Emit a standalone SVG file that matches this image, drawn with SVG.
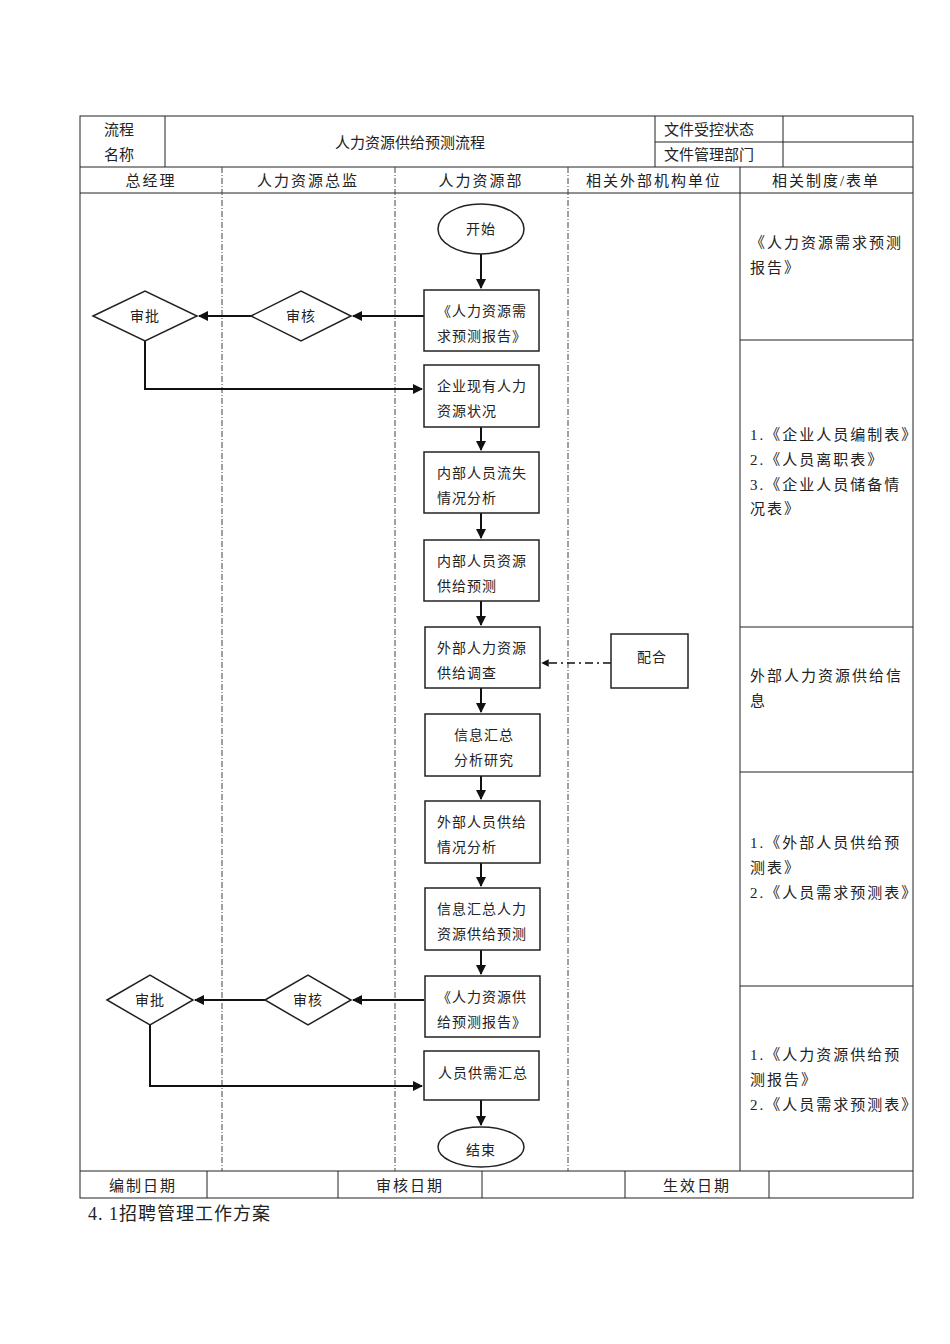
<svg xmlns="http://www.w3.org/2000/svg" width="950" height="1344" viewBox="0 0 950 1344">
<style>
text{font-family:"Liberation Serif","Noto Sans CJK SC",serif;font-size:15px;fill:#222}
.t{font-size:14px;letter-spacing:1px}
.r{letter-spacing:2px}
.b{fill:#fff;stroke:#222;stroke-width:1.5}
.g{stroke:#222;stroke-width:1;fill:none}
.d{stroke:#444;stroke-width:1;stroke-dasharray:6,2,1,2}
.c{stroke:#111;stroke-width:2;fill:none}
</style>
<defs><marker id="a" viewBox="0 0 10 10" refX="9" refY="5" markerWidth="5" markerHeight="5" orient="auto"><path d="M0,0L10,5L0,10z" fill="#111"/></marker></defs>
<rect width="950" height="1344" fill="#fff"/>
<g id="table">
<rect class="g" x="80" y="116" width="833" height="1082"/>
<line class="g" x1="165" y1="116" x2="165" y2="167"/><line class="g" x1="655" y1="116" x2="655" y2="167"/><line class="g" x1="783" y1="116" x2="783" y2="167"/>
<line class="g" x1="655" y1="142" x2="913" y2="142"/>
<line class="g" x1="80" y1="167" x2="913" y2="167"/><line class="g" x1="80" y1="193" x2="913" y2="193"/>
<line class="g" x1="80" y1="1171" x2="913" y2="1171"/>
<line class="d" x1="222" y1="167" x2="222" y2="1171"/><line class="d" x1="395" y1="167" x2="395" y2="1171"/><line class="d" x1="568" y1="167" x2="568" y2="1171"/>
<line class="g" x1="740" y1="167" x2="740" y2="1171"/>
<line class="g" x1="740" y1="340" x2="913" y2="340"/><line class="g" x1="740" y1="627" x2="913" y2="627"/><line class="g" x1="740" y1="772" x2="913" y2="772"/><line class="g" x1="740" y1="986" x2="913" y2="986"/>
<line class="g" x1="207" y1="1171" x2="207" y2="1198"/><line class="g" x1="338" y1="1171" x2="338" y2="1198"/><line class="g" x1="482" y1="1171" x2="482" y2="1198"/><line class="g" x1="625" y1="1171" x2="625" y2="1198"/><line class="g" x1="769" y1="1171" x2="769" y2="1198"/>
<text x="104" y="135">流程</text><text x="104" y="160">名称</text>
<text x="410" y="148" text-anchor="middle">人力资源供给预测流程</text>
<text x="664" y="135">文件受控状态</text><text x="664" y="160">文件管理部门</text>
<text x="151" y="186" text-anchor="middle" class="r">总经理</text><text x="308" y="186" text-anchor="middle" class="r">人力资源总监</text><text x="481" y="186" text-anchor="middle" class="r">人力资源部</text><text x="654" y="186" text-anchor="middle" class="r">相关外部机构单位</text><text x="826" y="186" text-anchor="middle" class="r">相关制度/表单</text>
<g class="r">
<text class="r" x="750" y="248">《人力资源需求预测</text><text class="r" x="750" y="273">报告》</text>
<text class="r" x="750" y="440">1.《企业人员编制表》</text><text class="r" x="750" y="465">2.《人员离职表》</text><text class="r" x="750" y="490">3.《企业人员储备情</text><text class="r" x="750" y="514">况表》</text>
<text class="r" x="750" y="681">外部人力资源供给信</text><text class="r" x="750" y="706">息</text>
<text class="r" x="750" y="848">1.《外部人员供给预</text><text class="r" x="750" y="873">测表》</text><text class="r" x="750" y="898">2.《人员需求预测表》</text>
<text class="r" x="750" y="1060">1.《人力资源供给预</text><text class="r" x="750" y="1085">测报告》</text><text class="r" x="750" y="1110">2.《人员需求预测表》</text>
</g>
<text x="143" y="1191" text-anchor="middle" class="r">编制日期</text><text x="410" y="1191" text-anchor="middle" class="r">审核日期</text><text x="697" y="1191" text-anchor="middle" class="r">生效日期</text>
</g>
<text x="88" y="1220" style="font-size:18px;letter-spacing:1px">4. 1招聘管理工作方案</text>
<g id="connectors">
<line class="c" x1="481" y1="254" x2="481" y2="288" marker-end="url(#a)"/>
<line class="c" x1="424" y1="316" x2="353" y2="316" marker-end="url(#a)"/>
<line class="c" x1="251" y1="316" x2="199" y2="316" marker-end="url(#a)"/>
<path class="c" d="M145,341V389H422" marker-end="url(#a)"/>
<line class="c" x1="481" y1="427" x2="481" y2="450" marker-end="url(#a)"/>
<line class="c" x1="481" y1="513" x2="481" y2="538" marker-end="url(#a)"/>
<line class="c" x1="481" y1="601" x2="481" y2="625" marker-end="url(#a)"/>
<line x1="611" y1="663" x2="542" y2="663" stroke="#111" stroke-width="1.5" stroke-dasharray="8,4,2,4" marker-end="url(#a)"/>
<line class="c" x1="481" y1="688" x2="481" y2="712" marker-end="url(#a)"/>
<line class="c" x1="481" y1="776" x2="481" y2="799" marker-end="url(#a)"/>
<line class="c" x1="481" y1="863" x2="481" y2="886" marker-end="url(#a)"/>
<line class="c" x1="481" y1="950" x2="481" y2="974" marker-end="url(#a)"/>
<line class="c" x1="424" y1="1000" x2="353" y2="1000" marker-end="url(#a)"/>
<line class="c" x1="265" y1="1000" x2="195" y2="1000" marker-end="url(#a)"/>
<path class="c" d="M150,1025V1086H422" marker-end="url(#a)"/>
<line class="c" x1="481" y1="1100" x2="481" y2="1125" marker-end="url(#a)"/>
</g>
<g id="start"><ellipse class="b" cx="481" cy="229" rx="43" ry="25"/><text class="t" x="481" y="234" text-anchor="middle">开始</text></g>
<g id="n1"><rect class="b" x="424" y="290" width="115" height="61"/><text class="t" x="437" y="316">《人力资源需</text><text class="t" x="437" y="341">求预测报告》</text></g>
<g id="sp1"><polygon class="b" points="93,316 145,291 197,316 145,341"/><text class="t" x="145" y="321" text-anchor="middle">审批</text></g>
<g id="sh1"><polygon class="b" points="251,316 301,291 351,316 301,341"/><text class="t" x="301" y="321" text-anchor="middle">审核</text></g>
<g id="n2"><rect class="b" x="424" y="365" width="115" height="62"/><text class="t" x="437" y="391">企业现有人力</text><text class="t" x="437" y="416">资源状况</text></g>
<g id="n3"><rect class="b" x="424" y="452" width="115" height="61"/><text class="t" x="437" y="478">内部人员流失</text><text class="t" x="437" y="503">情况分析</text></g>
<g id="n4"><rect class="b" x="424" y="540" width="115" height="61"/><text class="t" x="437" y="566">内部人员资源</text><text class="t" x="437" y="591">供给预测</text></g>
<g id="n5"><rect class="b" x="425" y="627" width="115" height="61"/><text class="t" x="437" y="653">外部人力资源</text><text class="t" x="437" y="678">供给调查</text></g>
<g id="pei"><rect class="b" x="611" y="634" width="77" height="54"/><text class="t" x="652" y="662" text-anchor="middle">配合</text></g>
<g id="n6"><rect class="b" x="425" y="714" width="115" height="62"/><text class="t" x="484" y="740" text-anchor="middle">信息汇总</text><text class="t" x="484" y="765" text-anchor="middle">分析研究</text></g>
<g id="n7"><rect class="b" x="425" y="801" width="115" height="62"/><text class="t" x="437" y="827">外部人员供给</text><text class="t" x="437" y="852">情况分析</text></g>
<g id="n8"><rect class="b" x="425" y="888" width="115" height="62"/><text class="t" x="437" y="914">信息汇总人力</text><text class="t" x="437" y="939">资源供给预测</text></g>
<g id="n9"><rect class="b" x="425" y="976" width="115" height="61"/><text class="t" x="437" y="1002">《人力资源供</text><text class="t" x="437" y="1027">给预测报告》</text></g>
<g id="sp2"><polygon class="b" points="107,1000 150,975 193,1000 150,1025"/><text class="t" x="150" y="1005" text-anchor="middle">审批</text></g>
<g id="sh2"><polygon class="b" points="265,1000 308,975 351,1000 308,1025"/><text class="t" x="308" y="1005" text-anchor="middle">审核</text></g>
<g id="n10"><rect class="b" x="424" y="1051" width="115" height="49"/><text class="t" x="483" y="1078" text-anchor="middle">人员供需汇总</text></g>
<g id="end"><ellipse class="b" cx="481" cy="1147" rx="43" ry="20"/><text class="t" x="481" y="1155" text-anchor="middle">结束</text></g>
</svg>
